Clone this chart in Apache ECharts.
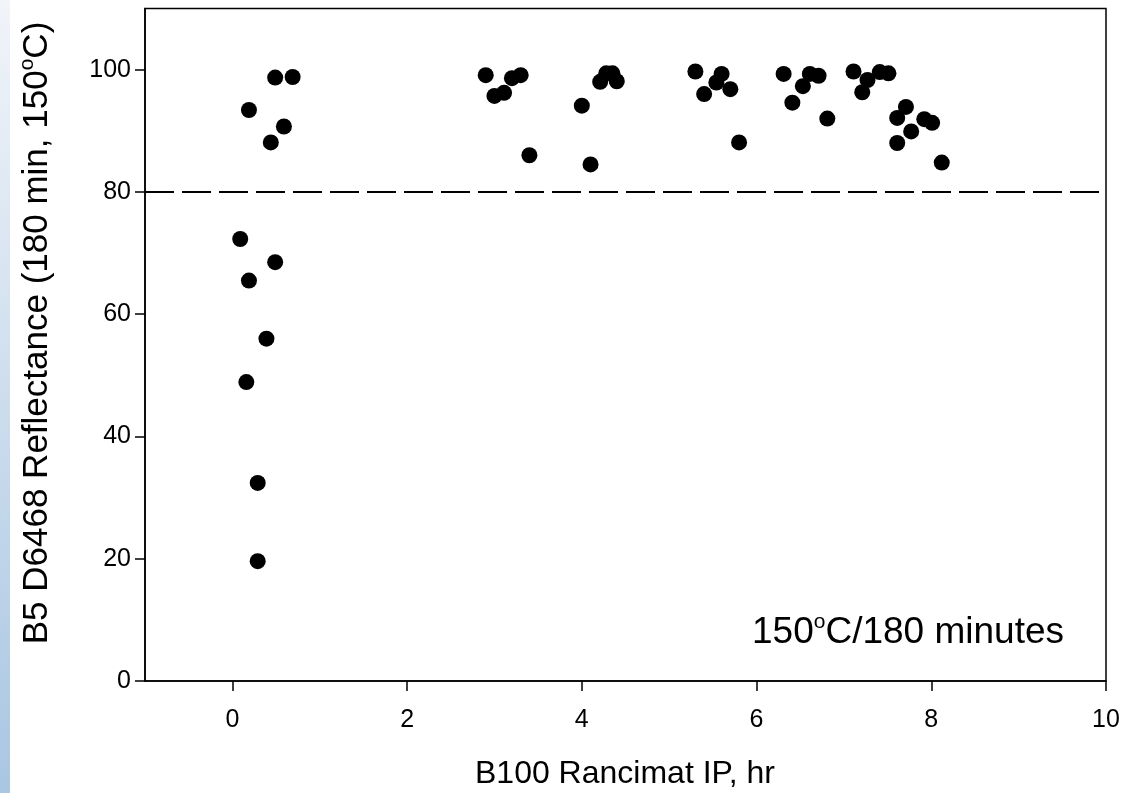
<!DOCTYPE html>
<html>
<head>
<meta charset="utf-8">
<script src="https://cdn.jsdelivr.net/npm/echarts@6/dist/echarts.min.js"></script>
<style>
html,body{margin:0;padding:0;background:#fff;}
#chart{width:1123px;height:793px;}
</style>
</head>
<body>
<div id="chart"></div>
<script>
// Data
const xValues = [0.09,0.19,0.49,0.39,0.16,0.29,0.29,
  0.49,0.69,0.19,0.59,0.44,
  2.90,3.00,3.11,3.20,3.30,3.40,
  4.00,4.10,4.21,4.28,4.35,4.40,
  5.30,5.40,5.54,5.60,5.70,5.80,
  6.31,6.41,6.53,6.61,6.71,6.81,
  7.11,7.21,7.27,7.41,7.51,
  7.61,7.71,7.61,7.77,7.92,8.01,8.12];
const yValues = [72.3,65.5,68.5,56.0,48.9,32.4,19.6,
  98.7,98.8,93.4,90.7,88.1,
  99.1,95.7,96.2,98.6,99.1,86.0,
  94.1,84.5,98.0,99.4,99.4,98.1,
  99.7,96.0,97.9,99.3,96.8,88.1,
  99.3,94.6,97.3,99.3,99.0,92.0,
  99.7,96.3,98.3,99.6,99.4,
  92.1,93.9,88.0,89.9,91.9,91.3,84.8];
const xTicks = [0,2,4,6,8,10];
const yTicks = [0,20,40,60,80,100];
const thresholdValue = 80;
const xTitle = 'B100 Rancimat IP, hr';
const yTitleMain = 'B5 D6468 Reflectance (180 min, 150';
const yTitleEnd = 'C)';
const noteStart = '150';
const noteEnd = 'C/180 minutes';

const points = xValues.map((x, i) => [x, yValues[i]]);
const FONT = 'Liberation Sans, Arial, sans-serif';

const chart = echarts.init(document.getElementById('chart'), null, {renderer: 'canvas'});
chart.setOption({
  animation: false,
  backgroundColor: '#ffffff',
  grid: {left: 145, top: 8.5, right: 17, bottom: 112, show: true, borderColor: '#000', borderWidth: 1.5, backgroundColor: 'transparent'},
  xAxis: {
    type: 'value', min: -1, max: 10,
    splitLine: {show: false},
    axisLine: {show: true, onZero: false, lineStyle: {color: '#000', width: 1.5}},
    axisTick: {show: true, inside: false, length: 10, lineStyle: {color: '#000', width: 1.5}, customValues: xTicks},
    axisLabel: {show: true, margin: 27, color: '#000', fontSize: 25, fontFamily: FONT, customValues: xTicks}
  },
  yAxis: {
    type: 'value', min: 0, max: 110,
    splitLine: {show: false},
    axisLine: {show: true, onZero: false, lineStyle: {color: '#000', width: 1.5}},
    axisTick: {show: true, inside: false, length: 10, lineStyle: {color: '#000', width: 1.5}, customValues: yTicks},
    axisLabel: {show: true, margin: 14, color: '#000', fontSize: 25, fontFamily: FONT, customValues: yTicks}
  },
  series: [{
    type: 'scatter',
    data: points,
    symbol: 'circle',
    symbolSize: 16,
    itemStyle: {color: '#000', opacity: 1},
    markLine: {
      silent: true,
      symbol: ['none', 'none'],
      label: {show: false},
      lineStyle: {color: '#000', width: 2, type: [29, 8], opacity: 1},
      data: [{yAxis: thresholdValue}]
    }
  }],
  graphic: [
    {
      type: 'rect', left: 0, top: 0, z: -1,
      shape: {width: 10, height: 793},
      style: {fill: new echarts.graphic.LinearGradient(0, 0, 0, 1, [
        {offset: 0, color: '#f1f4f9'},
        {offset: 1, color: '#a9c6e2'}
      ])}
    },
    {
      type: 'text', x: 625, y: 774,
      style: {text: xTitle, font: '32px ' + FONT, fill: '#000', align: 'center', verticalAlign: 'middle'}
    },
    {
      type: 'text', x: 37, y: 333, rotation: Math.PI / 2,
      style: {
        text: '{m|' + yTitleMain + '}{s|o}{m|' + yTitleEnd + '}',
        align: 'center', verticalAlign: 'middle',
        rich: {
          m: {font: '35px ' + FONT, fill: '#000', lineHeight: 40},
          s: {font: '21px ' + FONT, fill: '#000', lineHeight: 40, verticalAlign: 'top'}
        }
      }
    },
    {
      type: 'text', x: 908, y: 633,
      style: {
        text: '{m|' + noteStart + '}{s|o}{m|' + noteEnd + '}',
        align: 'center', verticalAlign: 'middle',
        rich: {
          m: {font: '37px ' + FONT, fill: '#000', lineHeight: 42},
          s: {font: '21px ' + FONT, fill: '#000', lineHeight: 42, verticalAlign: 'top'}
        }
      }
    }
  ]
});
</script>
</body>
</html>
